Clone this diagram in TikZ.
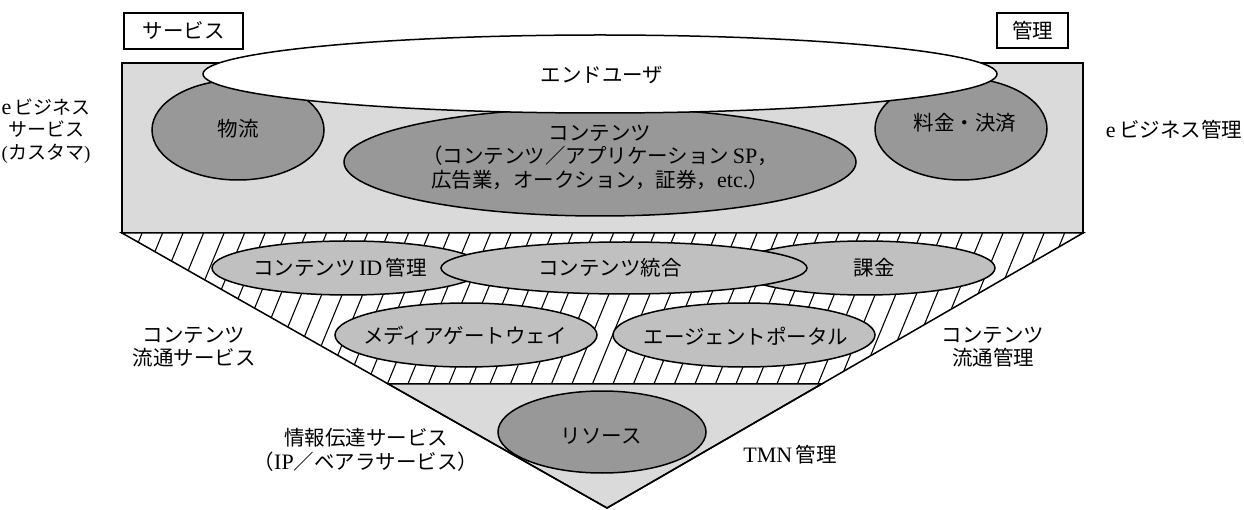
\documentclass[tikz,border=0pt]{standalone}
\usepackage{fontspec}
\setmainfont{Liberation Serif}
\newfontfamily\jp{Noto Sans CJK JP}
\usetikzlibrary{shapes.geometric,calc}
\definecolor{lightbg}{RGB}{218,218,218}
\definecolor{midfill}{RGB}{192,192,192}
\definecolor{darkfill}{RGB}{152,152,152}
\newcommand\lt[1]{{\rmfamily\fontsize{22}{23}\selectfont #1}}
\tikzset{
  ell/.style={ellipse, draw=black, line width=1.5pt, inner sep=0pt},
  darkell/.style={ell, fill=darkfill},
  midell/.style={ell, fill=midfill},
  lbl/.style={font={\jp\fontsize{20.5}{23.5}\selectfont}, align=center, inner sep=0pt},
  tagbox/.style={lbl, draw=black, line width=1.2pt, fill=white},
  hatch/.style={line width=1.1pt},
  outline/.style={line width=1.5pt}
}
\begin{document}
\begin{tikzpicture}[x=1pt,y=-1pt]
\useasboundingbox (0,0) rectangle (1244,510);
% corner points
\coordinate (TL) at (122,233);
\coordinate (TR) at (1083,233);
\coordinate (AP) at (607,508);
\coordinate (BL) at ($(TL)!0.549!(AP)$);
\coordinate (BR) at ($(TR)!0.549!(AP)$);
% upper rectangle
\draw[outline, fill=lightbg] (122,63) rectangle (1083,233);
\node[darkell, minimum width=172pt, minimum height=100pt] (butsuryu) at (238,130) {};
\node[lbl] (butsuryutxt) at (238,129) {物流};
\node[darkell, minimum width=512pt, minimum height=108pt] (contents) at (600,162) {};
\node[lbl] (contentstxt) at (600,157)
  {コンテンツ\\（コンテンツ／アプリケーション\,\lt{SP}，\\広告業，オークション，証券，\lt{etc.}）};
\node[darkell, minimum width=172pt, minimum height=102pt] (ryokin) at (961,129) {};
\node[lbl] (ryokintxt) at (965,123) {料金・決済};
\node[ell, fill=white, minimum width=794pt, minimum height=78pt] (enduser) at (600,74) {};
\node[lbl] (endusertxt) at (602,75) {エンドユーザ};
% hatched band
\fill[white] (TL) -- (TR) -- (BR) -- (BL) -- cycle;
\begin{scope}
  \clip (TL) -- (TR) -- (BR) -- (BL) -- cycle;
  \foreach \i in {-6,...,52}
    \draw[hatch] ({100+\i*20.5},385) -- ({163+\i*20.5},232);
\end{scope}
\node[midell, minimum width=272pt, minimum height=54pt] (cid) at (348,268) {};
\node[lbl] (cidtxt) at (340,268) {コンテンツ\,\lt{ID}\,管理};
\node[midell, minimum width=260pt, minimum height=54pt] (kakin) at (865,268) {};
\node[lbl] (kakintxt) at (874,268) {課金};
\node[midell, minimum width=366pt, minimum height=52pt] (tougou) at (624,268) {};
\node[lbl] (tougoutxt) at (610,268) {コンテンツ統合};
\node[midell, minimum width=262pt, minimum height=64pt] (media) at (466,335) {};
\node[lbl] (mediatxt) at (465,336) {メディアゲートウェイ};
\node[midell, minimum width=262pt, minimum height=64pt] (agent) at (744,335) {};
\node[lbl] (agenttxt) at (746,336) {エージェントポータル};
% lower triangle
\draw[outline, fill=lightbg] (BL) -- (BR) -- (AP) -- cycle;
\node[darkell, minimum width=208pt, minimum height=82pt] (resource) at (602,432) {};
\node[lbl] (resourcetxt) at (601,436) {リソース};
\draw[outline] (TL) -- (TR) -- (AP) -- cycle;
% tag boxes
\node[tagbox, minimum width=119pt, minimum height=36pt] (service) at (183.5,31) {サービス};
\node[tagbox, minimum width=71pt, minimum height=35pt] (kanri) at (1032.5,30.5) {管理};
% side labels
\node[lbl, font={\jp\fontsize{19}{22.5}\selectfont}] (ebizsvc) at (46,131) {\lt{e}\,ビジネス\\サービス\\{\rmfamily(}カスタマ{\rmfamily)}};
\node[lbl] (ebizmgmt) at (1174,130) {\lt{e}\,ビジネス管理};
\node[lbl] (cdsvc) at (194,347) {コンテンツ\\流通サービス};
\node[lbl] (cdmgmt) at (993,347) {コンテンツ\\流通管理};
\node[lbl] (infosvc) at (366,450) {情報伝達サービス\\（\lt{IP}／ベアラサービス）};
\node[lbl] (tmn) at (790,455) {\lt{TMN}\,管理};
\end{tikzpicture}
\end{document}
